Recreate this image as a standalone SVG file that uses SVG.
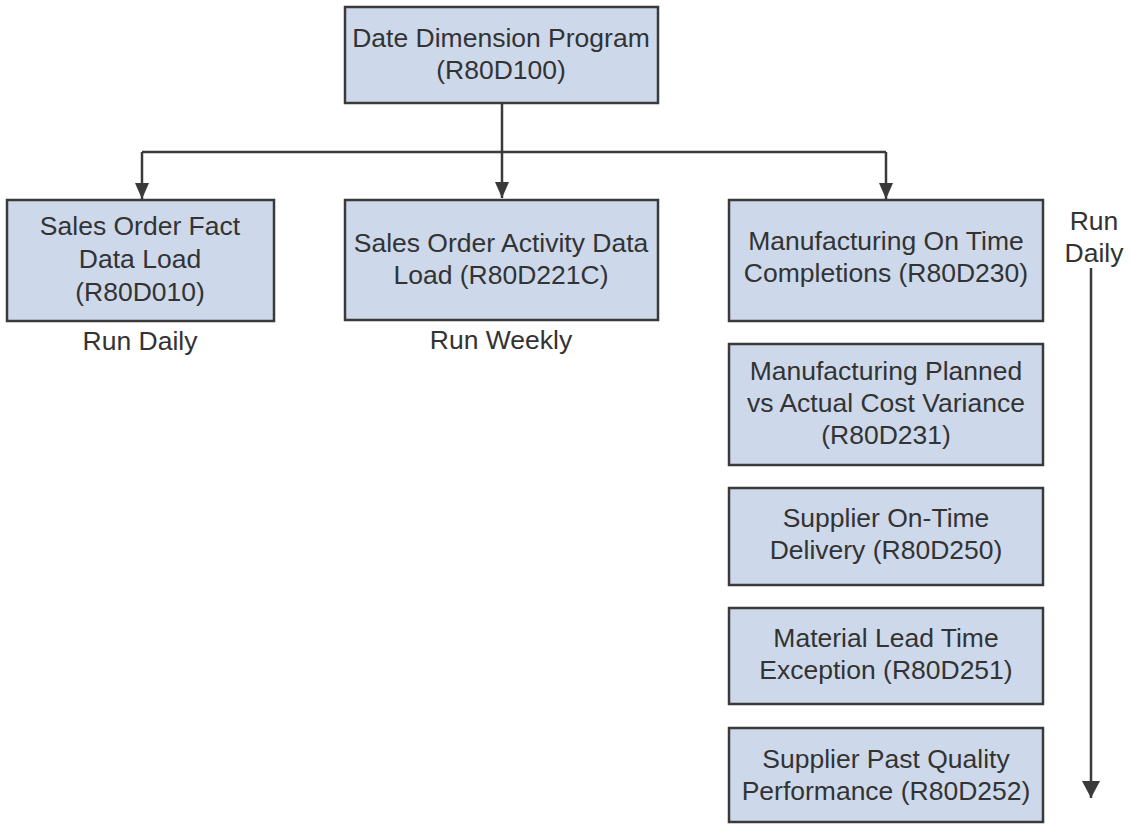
<svg xmlns="http://www.w3.org/2000/svg" width="1131" height="824" viewBox="0 0 1131 824">
<defs>
<style>
.box{fill:#cdd9ea;stroke:#3a3a3a;stroke-width:2.5}
.t{font-family:"Liberation Sans",Arial,sans-serif;font-size:26.5px;fill:#333;text-anchor:middle}
.c{fill:none;stroke:#3a3a3a;stroke-width:2.5}
</style>
<marker id="ah" viewBox="0 0 16 14" refX="16" refY="7" markerWidth="16" markerHeight="14" markerUnits="userSpaceOnUse" orient="auto">
<path d="M0,0 L16,7 L0,14 Z" fill="#3a3a3a"/>
</marker>
<marker id="ah2" viewBox="0 0 17 18" refX="17" refY="9" markerWidth="17" markerHeight="18" markerUnits="userSpaceOnUse" orient="auto">
<path d="M0,0 L17,9 L0,18 Z" fill="#3a3a3a"/>
</marker>
</defs>
<rect width="1131" height="824" fill="#fff"/>
<g id="connectors">
<path class="c" d="M502,103 V198" marker-end="url(#ah)"/>
<path class="c" d="M142,152 H886"/>
<path class="c" d="M142,152 V199" marker-end="url(#ah)"/>
<path class="c" d="M886,152 V199" marker-end="url(#ah)"/>
<path class="c" d="M1091,268 V798" marker-end="url(#ah2)"/>
</g>
<g id="n-date">
<rect class="box" x="345" y="7" width="313" height="96"/>
<text class="t" x="501" y="47">Date Dimension Program</text>
<text class="t" x="501" y="79">(R80D100)</text>
</g>
<g id="n-salesfact">
<rect class="box" x="7" y="200" width="267" height="121"/>
<text class="t" x="140" y="235">Sales Order Fact</text>
<text class="t" x="140" y="268">Data Load</text>
<text class="t" x="140" y="301">(R80D010)</text>
</g>
<g id="n-salesactivity">
<rect class="box" x="345" y="200" width="313" height="120"/>
<text class="t" x="501" y="252">Sales Order Activity Data</text>
<text class="t" x="501" y="284">Load (R80D221C)</text>
</g>
<g id="n-mfgontime">
<rect class="box" x="729" y="200" width="314" height="121"/>
<text class="t" x="886" y="250">Manufacturing On Time</text>
<text class="t" x="886" y="282">Completions (R80D230)</text>
</g>
<g id="n-mfgplanned">
<rect class="box" x="729" y="344" width="314" height="121"/>
<text class="t" x="886" y="380">Manufacturing Planned</text>
<text class="t" x="886" y="412">vs Actual Cost Variance</text>
<text class="t" x="886" y="444">(R80D231)</text>
</g>
<g id="n-supplierontime">
<rect class="box" x="729" y="488" width="314" height="97"/>
<text class="t" x="886" y="527">Supplier On-Time</text>
<text class="t" x="886" y="559">Delivery (R80D250)</text>
</g>
<g id="n-material">
<rect class="box" x="729" y="608" width="314" height="96"/>
<text class="t" x="886" y="647">Material Lead Time</text>
<text class="t" x="886" y="679">Exception (R80D251)</text>
</g>
<g id="n-supplierpast">
<rect class="box" x="729" y="728" width="314" height="94"/>
<text class="t" x="886" y="768">Supplier Past Quality</text>
<text class="t" x="886" y="800">Performance (R80D252)</text>
</g>
<g id="labels">
<text class="t" x="140" y="350">Run Daily</text>
<text class="t" x="501" y="349">Run Weekly</text>
<text class="t" x="1094" y="230">Run</text>
<text class="t" x="1094" y="262">Daily</text>
</g>
</svg>
